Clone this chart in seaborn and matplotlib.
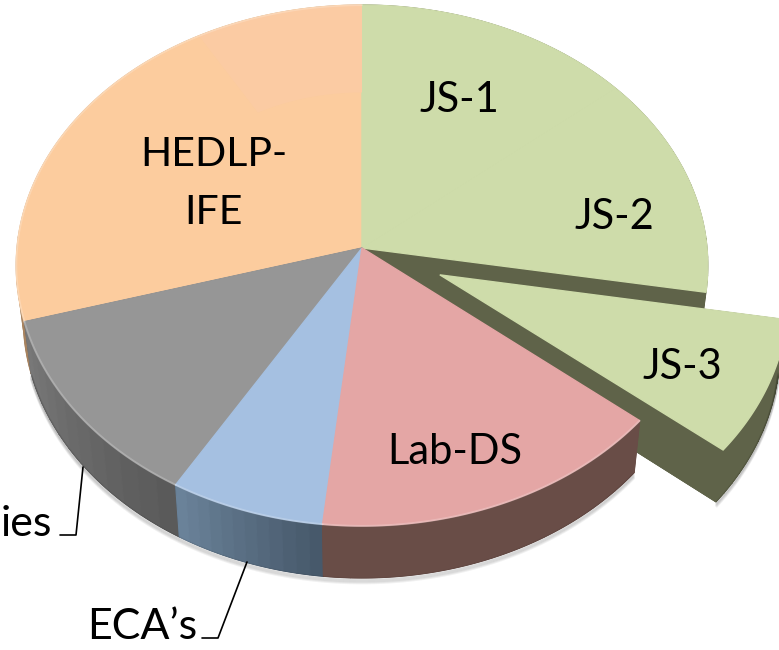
import numpy as np
import matplotlib
matplotlib.use("Agg")
import matplotlib.pyplot as plt
import seaborn as sns

# Slice data, clockwise from 12 o'clock
labels = ["JS-1", "JS-2", "JS-3", "Lab-DS", "ECA’s", "ies", "HEDLP-", "IFE"]
shares = [13.9, 13.8, 8.3, 15.7, 6.8, 12.0, 29.5]
explode = [0, 0, 0.2465, 0, 0, 0, 0]
top_colors = ["#CEDCAA", "#CEDCAA", "#CEDCAA", "#E4A6A5", "#A5C0E1", "#969696", "#FCCC9E"]
side_dark = ["#5F6349", "#5F6349", "#5F6349", "#694D47", "#47596B", "#5A5A5A", "#A8835F"]
side_light = ["#5F6349", "#5F6349", "#5F6349", "#694D47", "#6A8299", "#787878", "#A8835F"]

# Tilted view of the pie plane, in image pixels
CX, CY = 362, 248
RX, RY = 345, 259.3
K = 0.0672
DEPTH = 52
SHRINK = 0.98  # the underside is a little narrower than the top

sns.set_theme(style="white")
plt.rcParams["font.family"] = ["Lato", "DejaVu Sans"]

fig = plt.figure(figsize=(7.79, 6.5), dpi=100)
ax = fig.add_axes([0, 0, 1, 1])
wedges, _ = ax.pie(shares, explode=explode, colors=top_colors, startangle=90,
                   counterclock=False, frame=True)


def project(px, py):
    d = 1 + K * py
    return CX + RX * px / d, CY - RY * py / d


def lower(x):
    return CX + (np.asarray(x) - CX) * SHRINK


def rim_of(w, n=160):
    # clockwise along the outer edge
    t = np.radians(np.linspace(w.theta2, w.theta1, n))
    return project(w.center[0] + w.r * np.cos(t), w.center[1] + w.r * np.sin(t))


def draw_body(i, bands=12):
    w = wedges[i]
    cx, cy = project(*w.center)
    rx, ry = rim_of(w)
    fx = np.r_[cx, rx]
    fy = np.r_[cy, ry]
    ax.fill(lower(fx), fy + DEPTH, color=side_dark[i], lw=0.5)
    # the two cut faces
    for j in (0, -1):
        ax.fill([cx, rx[j], lower(rx[j]), lower(cx)], [cy, ry[j], ry[j] + DEPTH, cy + DEPTH],
                color=side_dark[i], lw=0.5)
    # outer wall in shaded bands
    parts = np.array_split(np.arange(len(rx)), bands)
    c0 = np.array(matplotlib.colors.to_rgb(side_dark[i]))
    c1 = np.array(matplotlib.colors.to_rgb(side_light[i]))
    for b, idx in enumerate(parts):
        idx = np.r_[idx, min(idx[-1] + 1, len(rx) - 1)]
        c = c0 + (c1 - c0) * b / (bands - 1)
        ax.fill(np.r_[rx[idx], lower(rx[idx])[::-1]], np.r_[ry[idx], ry[idx][::-1] + DEPTH],
                color=c, lw=0.8)


def draw_top(i):
    w = wedges[i]
    cx, cy = project(*w.center)
    rx, ry = rim_of(w)
    ax.fill(np.r_[cx, rx], np.r_[cy, ry], color=top_colors[i], lw=1.0)


def draw_shadow(i):
    w = wedges[i]
    rx, ry = rim_of(w)
    for d in range(1, 6):
        ax.plot(lower(rx), ry + DEPTH + d, color="black", alpha=0.055, lw=2, solid_capstyle="butt")


for w in wedges:
    w.set_visible(False)

for i in (2, 3, 4, 5):
    draw_shadow(i)

# back part first, then the pulled out slice, then the front
for i in (6, 0, 1):
    draw_body(i)
for i in (6, 0, 1):
    draw_top(i)
draw_body(2)
draw_top(2)
for i in (5, 4, 3):
    draw_body(i)
for i in (5, 4, 3):
    draw_top(i)

# faint lighter sector at the top of the orange slice
t = np.radians(np.linspace(90, 120, 60))
sx, sy = project(np.r_[np.cos(t), 0.625 * np.cos(t[::-1])], np.r_[np.sin(t), 0.625 * np.sin(t[::-1])])
ax.fill(sx, sy, color="#FBCBA3", lw=0)

# soft highlight along the front rim
for i in (3, 4, 5, 6):
    rx, ry = rim_of(wedges[i])
    ax.plot(rx, ry, color="white", alpha=0.22, lw=1.5)

# Labels
fs = 30
ax.text(459, 100, labels[0], fontsize=fs, ha="center", va="center", color="black")
ax.text(614, 217, labels[1], fontsize=fs, ha="center", va="center", color="black")
ax.text(682, 367, labels[2], fontsize=fs, ha="center", va="center", color="black")
ax.text(455, 452, labels[3], fontsize=fs, ha="center", va="center", color="black")
ax.text(214, 155, labels[6], fontsize=29.5, ha="center", va="center", color="black")
ax.text(214, 212, labels[7], fontsize=29.5, ha="center", va="center", color="black")
ax.text(197, 627, labels[4], fontsize=31, ha="right", va="center", color="black")
ax.text(52, 524, labels[5], fontsize=31, ha="right", va="center", color="black")

# Leader lines
ax.plot([83, 76, 60], [467, 535, 535], color="black", lw=1.2)
ax.plot([247, 218, 202], [562, 638, 638], color="black", lw=1.2)

ax.set_aspect("auto")
ax.set_xlim(0, 779)
ax.set_ylim(650, 0)
ax.axis("off")

fig.savefig("out.png", dpi=100, facecolor="white")
